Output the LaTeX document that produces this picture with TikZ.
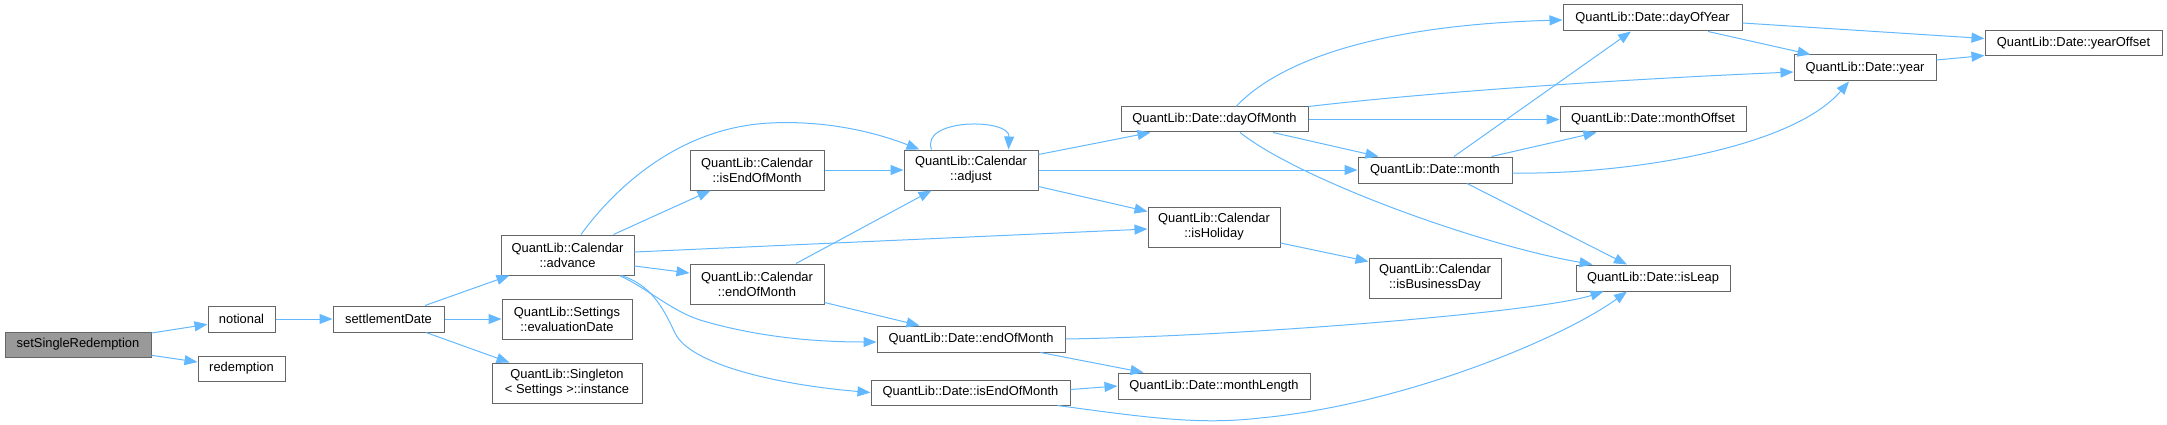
\documentclass[tikz,border=0pt]{standalone}
\usepackage{fontspec}
\setmainfont{Liberation Sans}
\usetikzlibrary{arrows.meta,calc}
\definecolor{edgeblue}{HTML}{63B8FF}
\definecolor{boxgray}{HTML}{666666}
\definecolor{rootfill}{HTML}{999999}
\begin{document}
\begin{tikzpicture}[x=1pt,y=-1pt,
  fn/.style={draw=boxgray, line width=1pt, fill=white, inner sep=0pt, align=center,
    font=\fontsize{12.9}{15}\selectfont},
  root/.style={fn, fill=rootfill},
  edge/.style={draw=edgeblue, line width=1pt, -{Triangle[length=13pt,width=10pt]}}]
\useasboundingbox (0,0) rectangle (2167,425);
% nodes
\node[root, minimum width=146pt, minimum height=25pt] (root) at (78,344.5) {setSingleRedemption};
\node[fn, minimum width=67pt, minimum height=26pt] (notional) at (241.5,319) {notional};
\node[fn, minimum width=87pt, minimum height=25pt] (redemption) at (241.5,368.5) {redemption};
\node[fn, minimum width=111pt, minimum height=26pt] (settle) at (388.5,319) {settlementDate};
\node[fn, minimum width=133pt, minimum height=40pt] (adv) at (567.5,255) {QuantLib::Calendar\\::advance};
\node[fn, minimum width=130pt, minimum height=40pt] (evald) at (567,319) {QuantLib::Settings\\::evaluationDate};
\node[fn, minimum width=150pt, minimum height=40pt] (single) at (567,383) {QuantLib::Singleton\\< Settings >::instance};
\node[fn, minimum width=134pt, minimum height=40pt] (calIEOM) at (757,170) {QuantLib::Calendar\\::isEndOfMonth};
\node[fn, minimum width=134pt, minimum height=40pt] (adj) at (971,170) {QuantLib::Calendar\\::adjust};
\node[fn, minimum width=134pt, minimum height=40pt] (calEOM) at (757,284) {QuantLib::Calendar\\::endOfMonth};
\node[fn, minimum width=188pt, minimum height=26pt] (dEOM) at (971,339) {QuantLib::Date::endOfMonth};
\node[fn, minimum width=199pt, minimum height=25pt] (dIEOM) at (970.5,392.5) {QuantLib::Date::isEndOfMonth};
\node[fn, minimum width=187pt, minimum height=25pt] (dom) at (1214.5,119.5) {QuantLib::Date::dayOfMonth};
\node[fn, minimum width=132pt, minimum height=40pt] (hol) at (1214,227) {QuantLib::Calendar\\::isHoliday};
\node[fn, minimum width=192pt, minimum height=26pt] (mLen) at (1214,386) {QuantLib::Date::monthLength};
\node[fn, minimum width=179pt, minimum height=26pt] (doy) at (1652.5,18) {QuantLib::Date::dayOfYear};
\node[fn, minimum width=186pt, minimum height=25pt] (mOff) at (1653,119.5) {QuantLib::Date::monthOffset};
\node[fn, minimum width=154pt, minimum height=26pt] (month) at (1435,170) {QuantLib::Date::month};
\node[fn, minimum width=132pt, minimum height=40pt] (bus) at (1435,278) {QuantLib::Calendar\\::isBusinessDay};
\node[fn, minimum width=154pt, minimum height=26pt] (leap) at (1653,278) {QuantLib::Date::isLeap};
\node[fn, minimum width=142pt, minimum height=26pt] (year) at (1865,68) {QuantLib::Date::year};
\node[fn, minimum width=177pt, minimum height=25pt] (yOff) at (2073.5,43.5) {QuantLib::Date::yearOffset};
% edges
\draw[edge] (root) -- (notional);
\draw[edge] (root) -- (redemption);
\draw[edge] (notional) -- (settle);
\draw[edge] ($(settle.north)+(36.5,0)$) -- ($(adv.south west)+(9,0)$);
\draw[edge] (settle) -- (evald);
\draw[edge] ($(settle.south)+(37.5,0)$) -- ($(single.north west)+(18,0)$);
\draw[edge] ($(adv.north)+(13.5,0)$) .. controls (606,200) and (670,128) .. (770,123)
  .. controls (830,120) and (880,134) .. ($(adj.north west)+(16,0)$);
\draw[edge] ($(adv.north east)+(-21,0)$) -- ($(calIEOM.south west)+(21,0)$);
\draw[edge] ($(adv.east)+(0,-3)$) -- ($(hol.west)+(0,2)$);
\draw[edge] ($(adv.east)+(0,11)$) -- ($(calEOM.west)+(0,-11)$);
\draw[edge] ($(adv.south east)+(-15,0)$) .. controls (650,290) and (670,310) .. (700,320)
  .. controls (760,338) and (820,342) .. ($(dEOM.west)+(0,3)$);
\draw[edge] ($(adv.south east)+(-13,0)$) .. controls (650,285) and (662,305) .. (675,333)
  .. controls (690,365) and (780,385) .. (dIEOM.west);
\draw[edge] (calIEOM) -- (adj);
\draw[edge] ($(adj.north west)+(28,0)$) .. controls (920,118) and (1010,118) .. ($(adj.north west)+(105,0)$);
\draw[edge] ($(adj.north east)+(0,5)$) -- ($(dom.south west)+(30,0)$);
\draw[edge] (adj) -- (month);
\draw[edge] ($(adj.south east)+(0,-4)$) -- ($(hol.north west)+(0,5)$);
\draw[edge] ($(calEOM.north)+(39,0)$) -- ($(adj.south west)+(28,0)$);
\draw[edge] ($(calEOM.south east)+(0,-2)$) -- ($(dEOM.north west)+(43,0)$);
\draw[edge] (dEOM.east) .. controls (1250,336) and (1540,312) .. ($(leap.south west)+(28,0)$);
\draw[edge] ($(dEOM.south east)+(-25,0)$) -- ($(mLen.north west)+(26,0)$);
\draw[edge] ($(dIEOM.east)+(0,-3)$) -- (mLen.west);
\draw[edge] ($(dIEOM.south east)+(-13,0)$) .. controls (1150,418) and (1200,425) .. (1260,418)
  .. controls (1400,405) and (1560,340) .. ($(leap.south)+(-26,0)$);
\draw[edge] ($(dom.north)+(21.5,0)$) .. controls (1280,60) and (1380,25) .. ($(doy.west)+(0,2)$);
\draw[edge] (dom.north east) .. controls (1450,90) and (1650,78) .. ($(year.west)+(0,4)$);
\draw[edge] (dom) -- (mOff);
\draw[edge] ($(dom.south)+(58.5,0)$) -- ($(month.north west)+(21,0)$);
\draw[edge] ($(dom.south)+(25.5,0)$) .. controls (1300,180) and (1480,245) .. ($(leap.north west)+(17,0)$);
\draw[edge] ($(month.north)+(19,0)$) -- ($(doy.south)+(-21.5,0)$);
\draw[edge] ($(month.north east)+(-21,0)$) -- ($(mOff.south west)+(37,0)$);
\draw[edge] ($(month.east)+(0,3)$) .. controls (1620,175) and (1790,150) .. ($(year.south)+(-16,0)$);
\draw[edge] ($(month.south)+(32,0)$) -- ($(leap.north)+(-26,0)$);
\draw[edge] ($(doy.east)+(0,5)$) -- ($(yOff.west)+(0,-5)$);
\draw[edge] ($(doy.south)+(55.5,0)$) -- ($(year.north west)+(17,0)$);
\draw[edge] ($(year.east)+(0,-8)$) -- ($(yOff.south west)+(0,-1)$);
\draw[edge] ($(hol.east)+(0,16)$) -- ($(bus.north west)+(0,4)$);
\end{tikzpicture}
\end{document}
